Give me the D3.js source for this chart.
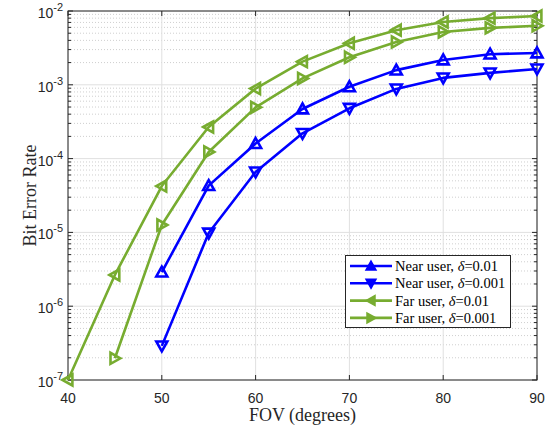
<!DOCTYPE html>
<html><head><meta charset="utf-8">
<script src="https://cdn.jsdelivr.net/npm/d3@7"></script>
<style>body{margin:0;background:#fff}svg{display:block}</style>
</head><body>
<svg id="c" width="553" height="428"></svg>
<script>
const fov = [40,45,50,55,60,65,70,75,80,85,90];
const nearD01  = [null,null,2.9e-6,4.3e-5,1.6e-4,4.7e-4,9.4e-4,1.58e-3,2.17e-3,2.6e-3,2.7e-3];
const nearD001 = [null,null,2.9e-7,9.8e-6,6.6e-5,2.2e-4,4.8e-4,8.8e-4,1.24e-3,1.45e-3,1.64e-3];
const farD01   = [1e-7,2.65e-6,4.25e-5,2.68e-4,8.9e-4,2.06e-3,3.65e-3,5.5e-3,7.1e-3,8.0e-3,8.55e-3];
const farD001  = [null,1.97e-7,1.26e-5,1.23e-4,4.95e-4,1.22e-3,2.36e-3,3.8e-3,5.2e-3,5.9e-3,6.3e-3];
const xTicks = [40,50,60,70,80,90];
const yTicks = [1e-7,1e-6,1e-5,1e-4,1e-3,1e-2];
const seriesNames = ["Near user, ","Near user, ","Far user, ","Far user, "];
const deltaVals = ["0.01","0.001","0.01","0.001"];
const colors = ["#0000ff","#0000ff","#77ac30","#77ac30"];
const markers = ["up","down","left","right"];
const allSeries = [nearD01, nearD001, farD01, farD001];

const svg = d3.select("#c");
const L=68, R=537, T=11, B=380;
const x = d3.scaleLinear().domain([40,90]).range([L,R]);
const y = d3.scaleLog().domain([1e-7,1e-2]).range([B,T]);

// minor grid
const minor=[];
for(let e=-7;e<-2;e++) for(let m=2;m<=9;m++) minor.push(m*Math.pow(10,e));
svg.append("g").selectAll("line").data(minor).join("line")
  .attr("x1",L).attr("x2",R).attr("y1",d=>y(d)).attr("y2",d=>y(d))
  .attr("stroke","#cfcfcf").attr("stroke-width",1).attr("stroke-dasharray","1,2");
// major grid
svg.append("g").selectAll("line").data(yTicks).join("line")
  .attr("x1",L).attr("x2",R).attr("y1",d=>y(d)).attr("y2",d=>y(d))
  .attr("stroke","#e0e0e0").attr("stroke-width",1);
svg.append("g").selectAll("line").data(xTicks).join("line")
  .attr("y1",T).attr("y2",B).attr("x1",d=>x(d)).attr("x2",d=>x(d))
  .attr("stroke","#e0e0e0").attr("stroke-width",1);

// axes box
const ax = svg.append("g").attr("stroke","#262626").attr("stroke-width",1);
ax.append("rect").attr("x",L).attr("y",T).attr("width",R-L).attr("height",B-T).attr("fill","none");
xTicks.forEach(v=>{
  ax.append("line").attr("x1",x(v)).attr("x2",x(v)).attr("y1",B).attr("y2",B-5);
  ax.append("line").attr("x1",x(v)).attr("x2",x(v)).attr("y1",T).attr("y2",T+5);
});
yTicks.forEach(v=>{
  ax.append("line").attr("x1",L).attr("x2",L+5).attr("y1",y(v)).attr("y2",y(v));
  ax.append("line").attr("x1",R).attr("x2",R-5).attr("y1",y(v)).attr("y2",y(v));
});
minor.forEach(v=>{
  ax.append("line").attr("x1",L).attr("x2",L+3).attr("y1",y(v)).attr("y2",y(v));
  ax.append("line").attr("x1",R).attr("x2",R-3).attr("y1",y(v)).attr("y2",y(v));
});

// tick labels
const tf = "'Liberation Sans', Arial, sans-serif";
svg.append("g").selectAll("text").data(xTicks).join("text")
  .attr("x",d=>x(d)).attr("y",403).attr("text-anchor","middle")
  .attr("font-family",tf).attr("font-size",14).attr("fill","#262626").text(d=>d);
yTicks.forEach(v=>{
  const e = Math.round(Math.log10(v));
  const t = svg.append("text").attr("x",L-5).attr("y",y(v)+7).attr("text-anchor","end")
    .attr("font-family",tf).attr("font-size",14).attr("fill","#262626");
  t.append("tspan").text("10");
  t.append("tspan").attr("dy",-7).attr("font-size",11).text(String(e));
});

// axis labels
const sf = "'Liberation Serif','Times New Roman',serif";
svg.append("text").attr("x",(L+R)/2).attr("y",421).attr("text-anchor","middle")
  .attr("font-family",sf).attr("font-size",18).attr("fill","#262626").text("FOV (degrees)");
svg.append("text").attr("transform",`translate(36,${(T+B)/2}) rotate(-90)`).attr("text-anchor","middle")
  .attr("font-family",sf).attr("font-size",18).attr("fill","#262626").text("Bit Error Rate");

function triPath(dir, s){
  const h=s*0.5;
  let p;
  if(dir==="up") p=[[0,-h],[h,h*0.8],[-h,h*0.8]];
  else if(dir==="down") p=[[0,h],[h,-h*0.8],[-h,-h*0.8]];
  else if(dir==="left") p=[[-h,0],[h*0.8,-h],[h*0.8,h]];
  else p=[[h,0],[-h*0.8,-h],[-h*0.8,h]];
  return "M"+p.map(q=>q.join(",")).join("L")+"Z";
}

const line = d3.line().defined(d=>d[1]!=null).x(d=>x(d[0])).y(d=>y(d[1]));
allSeries.forEach((s,i)=>{
  const pts = fov.map((f,j)=>[f,s[j]]);
  svg.append("path").datum(pts).attr("d",line).attr("fill","none")
    .attr("stroke",colors[i]).attr("stroke-width",2.6).attr("stroke-linejoin","round");
  svg.append("g").selectAll("path").data(pts.filter(d=>d[1]!=null)).join("path")
    .attr("transform",d=>`translate(${x(d[0])},${y(d[1])})`)
    .attr("d",triPath(markers[i],11)).attr("fill","none")
    .attr("stroke",colors[i]).attr("stroke-width",2.6).attr("stroke-linejoin","miter");
});

// legend
const lg = svg.append("g");
lg.append("rect").attr("x",345.5).attr("y",255.5).attr("width",165).attr("height",72)
  .attr("fill","#fff").attr("stroke","#262626").attr("stroke-width",1);
allSeries.forEach((s,i)=>{
  const yy = 266 + i*17.3;
  lg.append("line").attr("x1",350).attr("x2",392).attr("y1",yy).attr("y2",yy)
    .attr("stroke",colors[i]).attr("stroke-width",2.6);
  lg.append("path").attr("transform",`translate(371,${yy})`).attr("d",triPath(markers[i],10))
    .attr("fill",colors[i]).attr("stroke",colors[i]).attr("stroke-width",1.5);
  const t = lg.append("text").attr("x",395).attr("y",yy+5).attr("font-family",sf)
    .attr("font-size",14.5).attr("fill","#000");
  t.append("tspan").text(seriesNames[i]);
  t.append("tspan").attr("font-style","italic").text("δ");
  t.append("tspan").text("="+deltaVals[i]);
});
</script>
</body></html>
